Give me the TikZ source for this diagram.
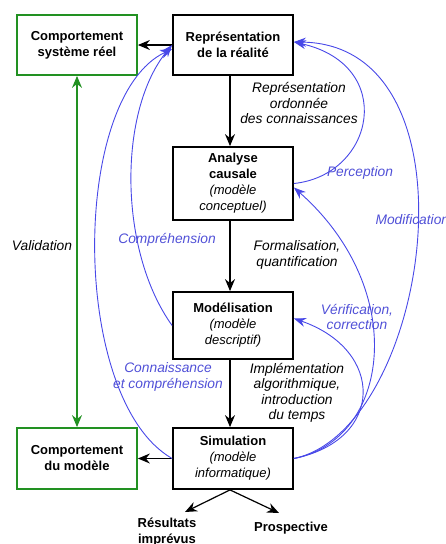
\documentclass[tikz,border=0pt]{standalone}
\usepackage{fontspec}
\setmainfont{Liberation Sans}
\usetikzlibrary{arrows.meta}
\definecolor{bluec}{RGB}{72,72,232}
\definecolor{bluet}{RGB}{80,80,215}
\definecolor{greenc}{RGB}{34,145,34}
\begin{document}
\begin{tikzpicture}[x=1pt,y=-1pt,
  box/.style={draw=black, line width=1.8pt, fill=white, minimum width=120pt, inner sep=0pt, align=center, font=\fontsize{13}{16}\selectfont},
  gbox/.style={box, draw=greenc},
  lab/.style={align=center, font=\fontsize{13.8}{15.5}\selectfont\itshape},
  blab/.style={lab, text=bluet},
  outcome/.style={align=center, font=\fontsize{13}{16}\selectfont\bfseries},
  barr/.style={line width=1.2pt, -{Stealth[length=12pt,width=10pt,inset=4pt]}},
  garr/.style={draw=greenc, line width=1.2pt, {Stealth[length=12pt,width=10pt,inset=4pt]}-{Stealth[length=12pt,width=10pt,inset=4pt]}},
  blarr/.style={draw=bluec, line width=0.9pt, -{Stealth[length=12pt,width=9pt,inset=4pt]}},
]
\useasboundingbox (0,0) rectangle (446,544);

% boxes
\node[box, minimum height=60pt] (rep) at (233,45) {\textbf{Représentation}\\\textbf{de la réalité}};
\node[gbox, minimum height=60pt] (real) at (77,45) {\textbf{Comportement}\\\textbf{système réel}};
\node[box, minimum height=73pt] (ana) at (233,183.5) {\textbf{Analyse}\\\textbf{causale}\\\textit{(modèle}\\\textit{conceptuel)}};
\node[box, minimum height=67pt] (mod) at (233,325.5) {\textbf{Modélisation}\\\textit{(modèle}\\\textit{descriptif)}};
\node[box, minimum height=61pt] (sim) at (233,458.5) {\textbf{Simulation}\\\textit{(modèle}\\\textit{informatique)}};
\node[gbox, minimum height=61pt] (cmod) at (77,458.5) {\textbf{Comportement}\\\textbf{du modèle}};

% outcomes
\node[outcome] (res) at (167,532) {Résultats\\imprévus};
\node[outcome] (pro) at (291,528) {Prospective};
\coordinate (rtip) at (185,512);
\coordinate (ptip) at (279,513);

% black arrows
\draw[barr] (rep.west) -- (real.east);
\draw[barr] (sim.west) -- (cmod.east);
\draw[barr] ([xshift=-3pt]rep.south) -- ([xshift=-3pt]ana.north);
\draw[barr] ([xshift=-3pt]ana.south) -- ([xshift=-3pt]mod.north);
\draw[barr] ([xshift=-3pt]mod.south) -- ([xshift=-3pt]sim.north);
\draw[barr] ([xshift=-3pt]sim.south) -- (rtip);
\draw[barr] ([xshift=-3pt]sim.south) -- (ptip);

% green validation
\draw[garr] (real.south) -- (cmod.north);

% blue curves left
\draw[blarr] (mod.west) .. controls (118,250) and (118,110) .. (rep.west);
\draw[blarr] (sim.west) .. controls (70,400) and (70,97) .. ([yshift=-4pt]rep.west);

% blue curves right
\draw[blarr] (ana.east) .. controls (375,175) and (397,65) .. ([yshift=3pt]rep.east);
\draw[blarr] (sim.east) .. controls (430,430) and (485,44) .. ([yshift=3pt]rep.east);
\draw[blarr] (sim.east) .. controls (390,440) and (410,290) .. ([yshift=-4pt]ana.east);
\draw[blarr] (sim.east) .. controls (385,440) and (385,350) .. ([yshift=7pt]mod.east);

% labels
\node[lab] (l1) at (299,103) {Représentation\\ordonnée\\des connaissances};
\node[lab] (l2) at (297,255) {Formalisation,\\quantification};
\node[lab] (l3) at (297,393) {Implémentation\\algorithmique,\\introduction\\du temps};
\node[lab] (lv) at (42,246) {Validation};
\node[blab] (lp) at (360,173) {Perception};
\node[blab, anchor=west] (lm) at (372,220) {Modification};
\node[blab] (lvc) at (357,317) {Vérification,\\correction};
\node[blab] (lc) at (167,240) {Compréhension};
\node[blab] (lcc) at (168,377) {Connaissance\\et compréhension};
\end{tikzpicture}
\end{document}
